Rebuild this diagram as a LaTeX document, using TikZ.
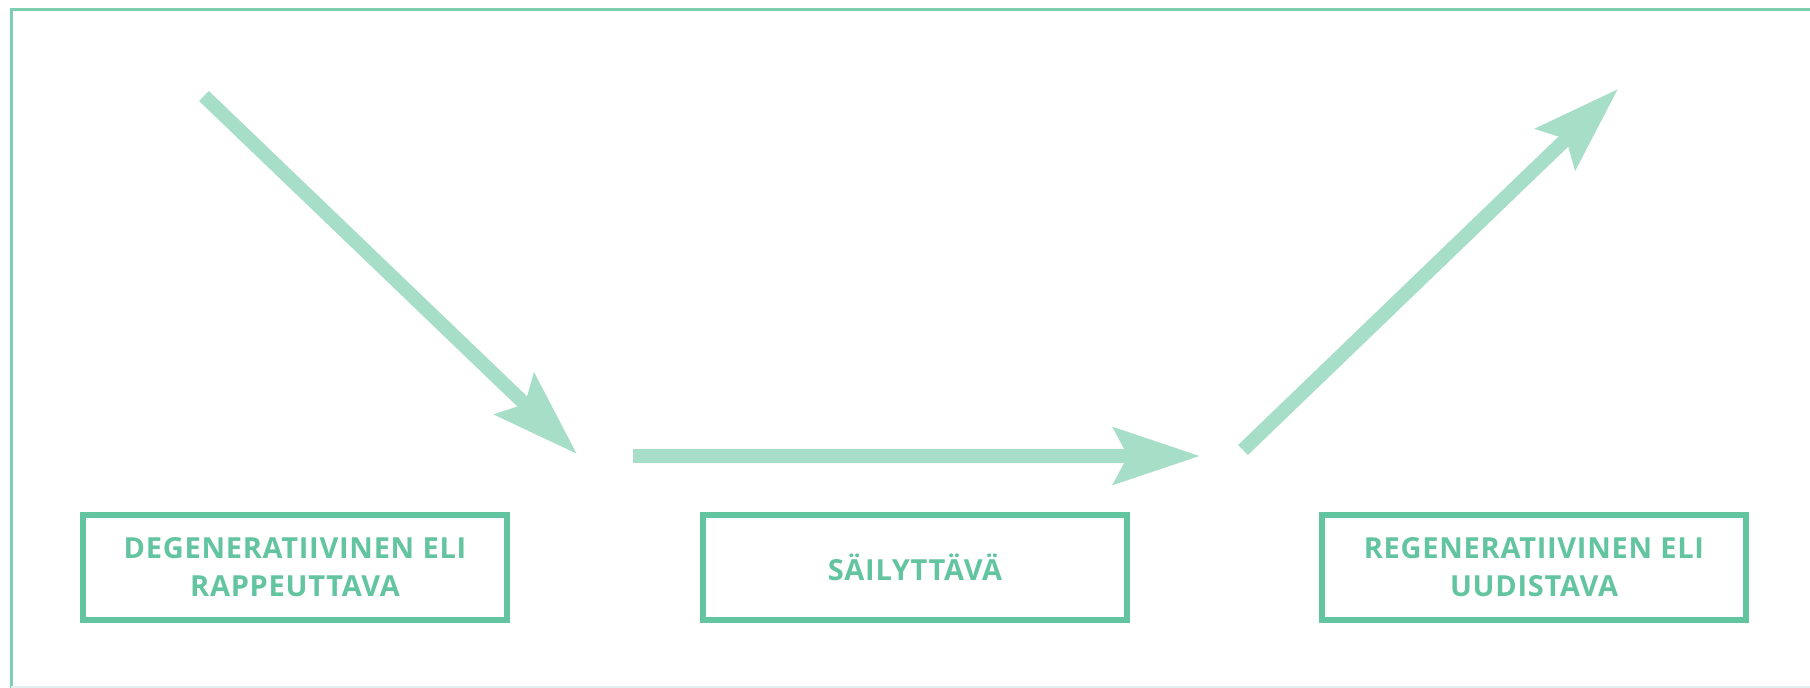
\documentclass[tikz,border=0pt]{standalone}
\usepackage{fontspec}
\setmainfont{Fira Sans}
\newfontfamily\boxfont[LetterSpace=2.5]{Open Sans}
\usetikzlibrary{arrows.meta}
\definecolor{boxgreen}{HTML}{63C4A0}
\definecolor{arrowgreen}{HTML}{A6DEC8}
\definecolor{framegreen}{HTML}{7ECFB2}
\definecolor{faintline}{HTML}{E2EEF0}
\tikzset{
  stagebox/.style={draw=boxgreen, line width=6pt, minimum width=424pt, minimum height=105pt,
    inner sep=0pt, align=center, text=boxgreen,
    font=\boxfont\bfseries\fontsize{29pt}{38pt}\selectfont},
  flowarrow/.style={draw=arrowgreen, line width=14pt,
    -{Stealth[length=86pt, width=56pt, inset=14pt]}}
}
\begin{document}
\begin{tikzpicture}[x=1pt,y=-1pt]
\useasboundingbox (0,0) rectangle (1810,688);
\fill[white] (0,0) rectangle (1810,688);
% outer frame
\draw[framegreen, line width=3pt] (11,700) -- (11,9) -- (1820,9);
\draw[faintline, line width=2pt] (11,687) -- (1820,687);
% boxes
\node[stagebox] (deg) at (295,567) {DEGENERATIIVINEN ELI\\RAPPEUTTAVA};
\node[stagebox] (sail) at (915,567) {SÄILYTTÄVÄ};
\node[stagebox] (reg) at (1534,567) {REGENERATIIVINEN ELI\\UUDISTAVA};
% arrow coordinates
\coordinate (a1s) at (204,96);
\coordinate (a1e) at (577,454);
\coordinate (a2s) at (633,456);
\coordinate (a2e) at (1200,456);
\coordinate (a3s) at (1243,450);
\coordinate (a3e) at (1618,89);
\draw[flowarrow] (a1s) -- (a1e);
\draw[flowarrow] (a2s) -- (a2e);
\draw[flowarrow] (a3s) -- (a3e);
\end{tikzpicture}
\end{document}
